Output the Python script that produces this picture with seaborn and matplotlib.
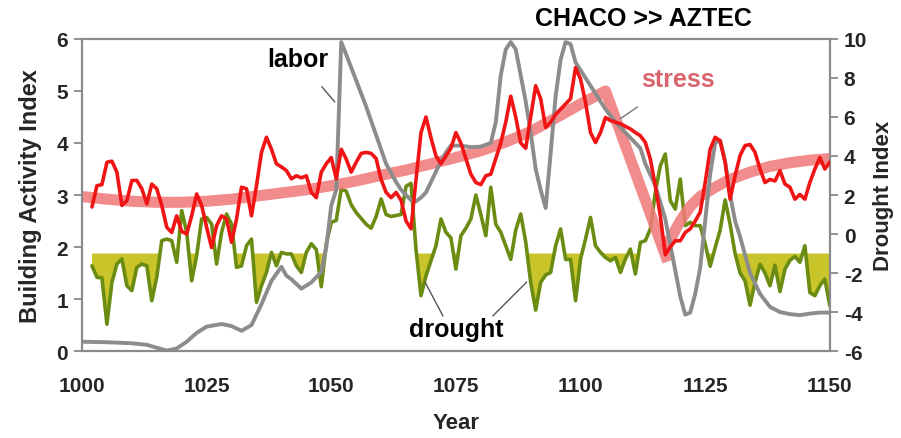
import matplotlib
matplotlib.use("Agg")
import matplotlib.pyplot as plt
import seaborn as sns
import numpy as np
import pandas as pd

# ---------------- data ----------------
red_years = list(range(1002, 1151))
red_values = [
    2.77, 3.18, 3.2, 3.63, 3.65, 3.44, 2.8, 2.89,
    3.28, 3.28, 3.12, 2.83, 3.21, 3.12, 2.8, 2.38, 2.28, 2.6,
    2.3, 2.25, 2.6, 3.02, 2.8, 2.38, 1.99, 2.41, 2.6, 2.54,
    2.09, 2.54, 3.15, 3.12, 2.6, 3.18, 3.82, 4.11, 3.88, 3.6,
    3.54, 3.47, 3.31, 3.37, 3.33, 3.37, 3.05, 2.95, 3.44, 3.6,
    3.72, 3.31, 3.88, 3.69, 3.44, 3.63, 3.8, 3.82, 3.8, 3.7,
    3.3, 3.05, 2.95, 3.05, 2.9, 2.5, 2.35, 3.3, 4.2, 4.5,
    4.1, 3.75, 3.6, 3.75, 3.9, 4.2, 4.0, 3.7, 3.4, 3.24,
    3.2, 3.37, 3.4, 3.7, 4.0, 4.4, 4.9, 4.5, 4.0, 3.9,
    4.5, 5.1, 4.85, 4.3, 4.4, 4.55, 4.65, 4.75, 4.85, 5.45,
    5.23, 4.78, 4.2, 4.01, 4.2, 4.49, 4.43, 4.4, 4.37, 4.32,
    4.27, 4.2, 4.14, 4.01, 3.69, 3.18, 2.6, 1.85, 2.0, 2.12,
    2.12, 2.28, 2.35, 2.5, 2.67, 3.24, 3.88, 4.11, 4.04, 3.63,
    2.92, 3.37, 3.76, 3.95, 3.97, 3.82, 3.5, 3.24, 3.3, 3.27,
    3.47, 3.21, 3.15, 2.92, 3.01, 2.92, 3.24, 3.5, 3.72, 3.5,
    3.63,
]

drought_years = list(range(1002, 1151))
drought_values = [
    -1.63, -2.22, -2.25, -4.62, -2.48, -1.54, -1.28, -2.65,
    -2.9, -1.71, -1.54, -1.63, -3.42, -2.2, -0.34, -0.26, -0.34, -1.45,
    1.2, 0.09, -2.4, -1.11, 0.77, 0.85, 0.51, -1.54, 0.09, 1.03,
    0.51, -1.71, -1.63, -0.6, -0.26, -3.5, -2.65, -1.97, -0.94, -1.63,
    -0.94, -1.02, -1.02, -1.63, -1.97, -0.94, -0.5, -0.8, -2.7, -0.5,
    0.6, 0.7, 2.3, 2.2, 1.5, 1.1, 0.8, 0.5, 0.3, 0.9,
    1.8, 1.0, 0.9, 0.95, 1.0, 2.45, 2.6, -0.8, -3.16, -2.14,
    -1.37, -0.6, 0.77, 0.09, -0.2, -1.8, -0.09, 0.3, 0.77, 2.0,
    1.0, -0.09, 2.4, 0.5, 0.09, -0.6, -1.3, 0.2, 1.03, -0.4,
    -2.48, -3.9, -2.48, -2.1, -1.97, -0.6, 0.26, -1.3, -1.3, -3.42,
    -1.28, -0.26, 0.85, -0.6, -0.94, -1.2, -1.37, -1.2, -1.97, -1.28,
    -0.77, -2.05, -0.43, -0.34, 0.26, 2.14, 3.5, 4.1, 1.71, 1.28,
    2.82, 0.43, 0.6, 0.43, 0.43, -0.5, -1.65, -0.7, 0.2, 1.75,
    0.5, -1.0, -2.0, -2.4, -3.65, -2.48, -1.55, -2.0, -2.65, -1.6,
    -2.95, -1.8, -1.35, -1.15, -1.45, -0.6, -3.0, -3.16, -2.65, -2.31,
    -3.68,
]
drought_threshold = -1.0

labor_years = [1000, 1005, 1010, 1013, 1017, 1019, 1021, 1023, 1025, 1028,
               1030, 1032, 1034, 1036, 1038, 1040, 1041, 1042, 1044, 1046,
               1048, 1049, 1050, 1051, 1052, 1053, 1055, 1057, 1059, 1061,
               1063, 1064, 1066, 1067, 1068, 1069, 1070, 1071, 1072, 1073,
               1074, 1076, 1078, 1080, 1082, 1083, 1084, 1085, 1086, 1087,
               1088, 1089, 1090, 1091, 1092, 1093, 1094, 1095, 1096, 1097,
               1098, 1099, 1100, 1102, 1105, 1107, 1109, 1111, 1112, 1113,
               1115, 1117, 1119, 1120, 1121, 1122, 1123, 1124, 1125, 1126,
               1127, 1128, 1129, 1130, 1131, 1132, 1134, 1136, 1138, 1140,
               1142, 1144, 1146, 1148, 1150]
labor_values = [0.18, 0.17, 0.15, 0.12, 0.01, 0.05, 0.18, 0.35, 0.47, 0.52,
                0.48, 0.39, 0.5, 0.9, 1.35, 1.62, 1.45, 1.38, 1.2, 1.32,
                1.52, 2.0, 2.8, 3.1, 5.94, 5.7, 5.2, 4.7, 4.15, 3.6,
                3.25, 3.1, 2.9, 2.88, 2.95, 3.05, 3.25, 3.45, 3.65, 3.82,
                3.95, 3.95, 3.92, 3.93, 4.0, 4.4, 5.3, 5.8, 5.94, 5.8,
                5.3, 4.8, 4.2, 3.5, 3.1, 2.75, 3.8, 4.9, 5.6, 5.94,
                5.9, 5.55, 5.4, 5.1, 4.65, 4.4, 4.2, 4.0, 3.9, 3.6,
                3.18, 2.54, 1.55, 1.05, 0.7, 0.74, 1.1, 1.6, 2.5, 3.4,
                4.0, 4.05, 3.65, 3.0, 2.5, 2.2, 1.5, 1.1, 0.85, 0.75,
                0.71, 0.69, 0.72, 0.74, 0.74]

stress_years_a = [1000, 1005, 1010, 1015, 1020, 1025, 1030, 1035, 1040, 1045,
                  1050, 1055, 1060, 1065, 1070, 1075, 1080, 1085, 1090, 1095,
                  1100, 1105, 1117.5]
stress_values_a = [2.97, 2.92, 2.88, 2.86, 2.86, 2.88, 2.92, 2.98, 3.04, 3.1,
                   3.18, 3.27, 3.38, 3.48, 3.6, 3.72, 3.85, 4.02, 4.22, 4.48,
                   4.75, 5.0, 1.72]
stress_years_b = [1117, 1118, 1120, 1122, 1124, 1127, 1130, 1134, 1138, 1142,
                  1146, 1150]
stress_values_b = [1.95, 2.15, 2.5, 2.78, 2.97, 3.15, 3.3, 3.44, 3.55, 3.62,
                   3.67, 3.7]

x_ticks = [1000, 1025, 1050, 1075, 1100, 1125, 1150]
left_ticks = [0, 1, 2, 3, 4, 5, 6]
right_ticks = [-6, -4, -2, 0, 2, 4, 6, 8, 10]

# ---------------- style ----------------
sns.set_theme(style="white")
plt.rcParams['font.family'] = ['Liberation Sans', 'DejaVu Sans']
plt.rcParams['font.weight'] = 'bold'

RED = '#f01414'
GREEN = '#6b8c12'
FILL = '#c8c42a'
GRAY = '#8c8c8c'
PINK = '#f07878'
SPINE = '#8a8a8a'

fig = plt.figure(figsize=(9.01, 4.39), dpi=100)
ax = fig.add_axes([0.091, 0.198, 0.830, 0.711])
ax2 = ax.twinx()
ax.set_zorder(ax2.get_zorder() + 1)
ax.patch.set_visible(False)

df_red = pd.DataFrame({'year': red_years, 'value': red_values})
df_dr = pd.DataFrame({'year': drought_years, 'value': drought_values})
df_lab = pd.DataFrame({'year': labor_years, 'value': labor_values})
df_sa = pd.DataFrame({'year': stress_years_a, 'value': stress_values_a})
df_sb = pd.DataFrame({'year': stress_years_b, 'value': stress_values_b})

# drought (right axis)
dy = np.array(drought_years, dtype=float)
dv = np.array(drought_values, dtype=float)
ax2.fill_between(dy, dv, drought_threshold, where=dv < drought_threshold,
                 interpolate=True, color=FILL, linewidth=0, zorder=1)
sns.lineplot(data=df_dr, x='year', y='value', ax=ax2, color=GREEN,
             linewidth=2.6, zorder=2, legend=False)

# left axis
sns.lineplot(data=df_sa, x='year', y='value', ax=ax, color=PINK, alpha=0.85,
             linewidth=8, zorder=1, legend=False, solid_capstyle='butt')
sns.lineplot(data=df_sb, x='year', y='value', ax=ax, color=PINK, alpha=0.85,
             linewidth=8, zorder=1, legend=False, solid_capstyle='butt')
sns.lineplot(data=df_lab, x='year', y='value', ax=ax, color=GRAY,
             linewidth=2.8, zorder=2, legend=False)
sns.lineplot(data=df_red, x='year', y='value', ax=ax, color=RED,
             linewidth=2.6, zorder=3, legend=False)

ax.set_xlim(1000, 1150)
ax.set_ylim(0, 6)
ax2.set_ylim(-6, 10)
ax.set_xticks(x_ticks)
ax.set_yticks(left_ticks)
ax2.set_yticks(right_ticks)
ax.set_xticklabels([str(t) for t in x_ticks])
ax.set_yticklabels([str(t) for t in left_ticks])
ax2.set_yticklabels([str(t) for t in right_ticks])

for a in (ax, ax2):
    for s in a.spines.values():
        s.set_color(SPINE)
        s.set_linewidth(1.5)
    a.grid(False)

ax.tick_params(axis='x', direction='out', length=6, width=1.3, color=SPINE,
               labelsize=15, pad=12)
ax.tick_params(axis='y', direction='out', length=6, width=1.3, color=SPINE,
               labelsize=15, pad=4, left=True)
ax2.tick_params(axis='y', direction='out', length=6, width=1.3, color=SPINE,
                labelsize=15, pad=4, right=True)
for lab in ax.get_xticklabels() + ax.get_yticklabels() + ax2.get_yticklabels():
    lab.set_fontweight('bold')

ax.set_xlabel('Year', fontsize=16, fontweight='bold', labelpad=12)
ax.set_ylabel('Building Activity Index', fontsize=17, fontweight='bold', labelpad=10)
ax2.set_ylabel('Drought Index', fontsize=16, fontweight='bold', labelpad=4,
               rotation=90)

# annotations
ax.annotate('labor', xy=(1050.7, 4.79), xytext=(1043.3, 5.62),
            fontsize=18, fontweight='bold', color='black', ha='center', va='center',
            arrowprops=dict(arrowstyle='-', color='#555555', lw=1.0,
                            shrinkA=12, shrinkB=0))
ax.annotate('stress', xy=(1107.9, 4.46), xytext=(1119.5, 5.23),
            fontsize=18, fontweight='bold', color='#d9646e', ha='center', va='center',
            arrowprops=dict(arrowstyle='-', color='#777777', lw=1.0,
                            shrinkA=16, shrinkB=0))
ax2.text(1075.0, -4.87, 'drought', fontsize=18, fontweight='bold',
         color='black', ha='center', va='center')
ax2.annotate('', xy=(1068.8, -2.46), xytext=(1072.4, -4.2),
             arrowprops=dict(arrowstyle='-', color='#555555', lw=1.0,
                             shrinkA=0, shrinkB=0))
ax2.annotate('', xy=(1089.2, -2.46), xytext=(1082.4, -4.2),
             arrowprops=dict(arrowstyle='-', color='#555555', lw=1.0,
                             shrinkA=0, shrinkB=0))

fig.text(0.714, 0.957, 'CHACO >> AZTEC', fontsize=18, fontweight='bold',
         ha='center', va='center', color='black')

fig.savefig('out.png', dpi=100)
